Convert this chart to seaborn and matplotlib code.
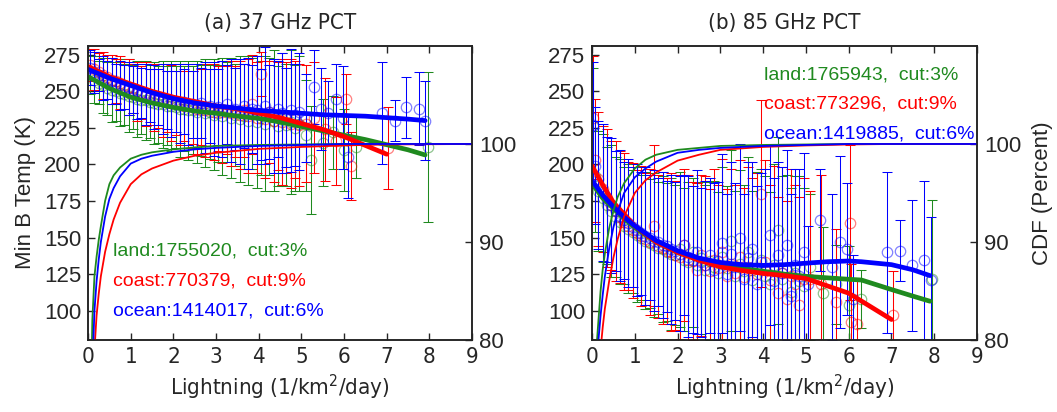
import matplotlib
matplotlib.use("Agg")
import matplotlib.pyplot as plt
import seaborn as sns

sns.set_style("ticks")
plt.rcParams['font.family'] = ['Liberation Sans', 'DejaVu Sans']
NARROW = ['Liberation Sans Narrow', 'DejaVu Sans']

GREEN = '#1f8a1f'
RED = '#ff0000'
BLUE = '#0000ff'

# ---------------- (a) 37 GHz ----------------
x37 = [0.05, 0.15, 0.25, 0.35, 0.45, 0.55, 0.65, 0.75, 0.85, 0.95,
       1.05, 1.15, 1.25, 1.35, 1.45, 1.55, 1.65, 1.75, 1.85, 1.95,
       2.05, 2.15, 2.25, 2.35, 2.45, 2.55, 2.65, 2.75, 2.85, 2.95,
       3.05, 3.15, 3.25, 3.35, 3.45, 3.55, 3.65, 3.75, 3.85, 3.95,
       4.05, 4.15, 4.25, 4.35, 4.45, 4.55, 4.65, 4.75, 4.85, 4.95]

land37_mean = [261, 258, 256, 254, 252, 251, 250, 249, 248, 247,
               246, 245, 244, 244, 243, 242, 241, 241, 240, 240,
               239, 238, 238, 237, 237, 236, 237, 235, 236, 234,
               235, 233, 236, 232, 234, 231, 233, 230, 235, 229,
               232, 228, 233, 230, 226, 231, 227, 229, 225, 228]
land37_err = [13, 16, 15, 19, 18, 22, 20, 23, 21, 25,
              22, 26, 23, 27, 25, 28, 26, 30, 27, 31,
              28, 33, 29, 34, 30, 35, 31, 37, 32, 38,
              33, 40, 34, 41, 35, 43, 36, 44, 38, 45,
              39, 46, 40, 48, 41, 45, 42, 49, 43, 46]
coast37_mean = [268, 265, 263, 261, 260, 258, 257, 256, 254, 253,
                252, 250, 249, 248, 246, 246, 245, 244, 243, 242,
                242, 241, 240, 240, 239, 238, 239, 237, 238, 236,
                238, 236, 237, 235, 236, 234, 237, 233, 241, 232,
                262, 231, 236, 230, 233, 229, 232, 228, 231, 227]
coast37_err = [11, 14, 13, 16, 15, 17, 15, 18, 16, 19,
               17, 20, 18, 22, 19, 23, 20, 25, 21, 26,
               22, 28, 24, 29, 25, 31, 26, 32, 27, 33,
               29, 35, 30, 36, 31, 37, 32, 39, 34, 38,
               15, 40, 35, 42, 37, 43, 38, 44, 40, 42]
ocean37_mean = [266, 263, 261, 259, 258, 257, 255, 254, 253, 252,
                251, 250, 249, 248, 247, 246, 246, 245, 244, 244,
                243, 242, 243, 241, 241, 240, 242, 239, 240, 238,
                239, 238, 241, 237, 238, 236, 240, 235, 238, 237,
                234, 240, 236, 233, 238, 235, 232, 237, 234, 236]
ocean37_err = [12, 14, 11, 15, 13, 16, 14, 17, 15, 18,
               16, 19, 17, 21, 18, 22, 19, 24, 20, 25,
               21, 27, 22, 28, 23, 29, 24, 31, 25, 32,
               26, 33, 27, 35, 28, 36, 29, 38, 30, 37,
               31, 40, 32, 39, 33, 41, 34, 42, 35, 40]

land37_tail_x = [5.1, 5.23, 5.5, 5.75, 6.0, 6.29, 7.97]
land37_tail_mean = [220, 203, 215, 222, 210, 212, 212]
land37_tail_err = [38, 37, 30, 25, 28, 21, 51]
coast37_tail_x = [5.1, 5.3, 5.55, 5.8, 6.05, 6.17, 7.03]
coast37_tail_mean = [228, 232, 224, 216, 245, 199, 211]
coast37_tail_err = [40, 38, 35, 30, 17, 23, 28]
ocean37_tail_x = [5.1, 5.3, 5.47, 5.63, 5.82, 5.98, 6.09, 6.9, 7.2, 7.45, 7.76, 7.9]
ocean37_tail_mean = [232, 253, 238, 235, 245, 232, 205, 235, 230, 239, 238, 230]
ocean37_tail_err = [30, 25, 28, 22, 24, 35, 28, 35, 14, 21, 25, 27]

fit37_x = [0, 0.5, 1, 1.5, 2, 2.5, 3, 3.5, 4, 4.5, 5, 5.5, 6, 6.5, 7, 7.5, 7.9]
land37_fit = [260, 252, 246, 242, 239, 236.5, 235, 233, 231.5, 229, 226, 223, 220, 217, 213.5, 210, 206.5]
ocean37_fit = [265, 259, 254, 249, 245, 242, 240, 238.5, 237, 236, 235, 234, 233.5, 233, 232, 231, 230]
coast37_fit_x = [0, 0.5, 1, 1.5, 2, 2.5, 3, 3.5, 4, 4.5, 5, 5.5, 6, 6.5, 7]
coast37_fit = [267, 260, 255, 250, 246, 243, 240, 238, 235, 232, 228, 224, 219, 213, 207]

cdf_x = [0.0, 0.05, 0.1, 0.15, 0.2, 0.25, 0.3, 0.4, 0.5, 0.6, 0.75, 1.0, 1.25, 1.5,
         2.0, 2.5, 3.0, 4.0, 5.0, 6.0, 7.0, 9.0]
land37_cdf = [40, 70, 82, 86.5, 88.5, 90.2, 91.6, 94.2, 95.9, 96.8, 97.6, 98.5, 98.9, 99.15,
              99.45, 99.65, 99.8, 99.9, 99.95, 100, 100, 100]
coast37_cdf = [20, 45, 66, 79, 82.5, 84.7, 86.5, 89.0, 90.8, 92.3, 94.0, 95.9, 96.9, 97.5,
               98.3, 98.8, 99.1, 99.5, 99.7, 99.85, 99.95, 100]
ocean37_cdf = [35, 62, 77, 83, 86.0, 88.2, 90.0, 92.6, 94.4, 95.5, 96.7, 98.0, 98.5, 98.8,
               99.2, 99.45, 99.6, 99.8, 99.9, 100, 100, 100]

# ---------------- (b) 85 GHz ----------------
x85 = [0.02, 0.06, 0.15, 0.25, 0.35, 0.45, 0.55, 0.65, 0.75, 0.85,
       0.95, 1.05, 1.15, 1.25, 1.35, 1.45, 1.55, 1.65, 1.75, 1.85,
       1.95, 2.05, 2.15, 2.25, 2.35, 2.45, 2.55, 2.65, 2.75, 2.85,
       2.95, 3.05, 3.15, 3.25, 3.35, 3.45, 3.55, 3.65, 3.75, 3.85,
       3.95, 4.05, 4.15, 4.25, 4.35, 4.45, 4.55, 4.65, 4.75, 4.85, 4.95]

land85_mean = [226, 192, 182, 177, 172, 168, 164, 161, 158, 156,
               154, 152, 150, 148, 146, 145, 143, 142, 140, 139,
               138, 142, 135, 133, 140, 131, 136, 128, 134, 130,
               126, 137, 129, 148, 124, 132, 127, 140, 121, 129,
               135, 124, 118, 131, 155, 122, 128, 113, 126, 120, 117]
land85_err = [40, 38, 41, 44, 40, 45, 41, 43, 40, 44,
              42, 46, 43, 47, 44, 49, 45, 50, 47, 52,
              48, 53, 49, 55, 51, 56, 52, 58, 54, 59,
              55, 61, 56, 62, 58, 64, 59, 65, 61, 66,
              62, 68, 63, 69, 64, 70, 65, 71, 66, 72, 67]
coast85_mean = [232, 203, 190, 183, 177, 172, 168, 164, 161, 158,
                155, 153, 151, 149, 147, 158, 144, 143, 141, 140,
                138, 137, 145, 135, 134, 128, 138, 131, 127, 135,
                129, 140, 124, 132, 126, 137, 123, 130, 128, 125,
                180, 133, 121, 128, 112, 126, 108, 124, 118, 104, 122]
coast85_err = [42, 42, 46, 43, 47, 44, 48, 45, 47, 44,
               46, 43, 48, 45, 50, 55, 49, 52, 50, 54,
               51, 56, 52, 58, 54, 59, 55, 61, 56, 62,
               57, 64, 59, 65, 60, 66, 61, 68, 63, 69,
               64, 70, 65, 71, 66, 72, 67, 73, 68, 74, 69]
ocean85_mean = [227, 199, 186, 181, 176, 172, 168, 165, 162, 160,
                157, 155, 153, 151, 150, 148, 147, 145, 144, 142,
                141, 139, 145, 137, 135, 140, 133, 131, 138, 128,
                134, 146, 125, 139, 130, 150, 122, 136, 142, 118,
                133, 128, 152, 120, 138, 126, 145, 110, 131, 124, 140]
ocean85_err = [43, 40, 44, 47, 43, 46, 41, 45, 40, 44,
               41, 45, 42, 47, 43, 48, 44, 50, 45, 51,
               47, 53, 48, 55, 50, 56, 51, 58, 53, 59,
               54, 61, 55, 63, 57, 64, 58, 66, 60, 67,
               61, 69, 62, 71, 64, 72, 65, 70, 66, 73, 68]

land85_tail_x = [5.1, 5.4, 5.7, 6.0, 6.3, 7.95]
land85_tail_mean = [130, 112, 118, 104, 108, 122]
land85_tail_err = [50, 45, 27, 40, 20, 54]
coast85_tail_x = [5.1, 5.35, 5.7, 6.04, 6.06, 6.2, 7.04]
coast85_tail_mean = [122, 118, 106, 160, 92, 91, 97]
coast85_tail_err = [60, 75, 50, 53, 40, 30, 30]
ocean85_tail_x = [5.05, 5.33, 5.6, 5.8, 5.95, 6.1, 6.89, 7.2, 7.47, 7.76, 7.92]
ocean85_tail_mean = [118, 162, 130, 147, 142, 108, 140, 141, 131, 135, 121]
ocean85_tail_err = [40, 35, 50, 59, 45, 30, 55, 21, 45, 54, 43]

fit85_x = [0, 0.25, 0.5, 0.75, 1, 1.5, 2, 2.5, 3, 3.5, 4, 4.5, 5, 5.5, 6, 6.3, 7, 7.5, 7.9]
land85_fit = [187, 177, 170, 163, 157, 147, 140, 135, 131, 129, 127, 125, 123.5, 122.5, 121.5, 121, 114.5, 110, 106.5]
ocean85_fit = [189, 179, 171, 164, 158, 148, 141, 136, 133, 131.5, 131, 131.5, 132.5, 133.5, 134, 133.5, 131.5, 128, 124]
coast85_fit_x = [0, 0.25, 0.5, 0.75, 1, 1.5, 2, 2.5, 3, 3.5, 4, 4.5, 5, 5.5, 6, 6.5, 7]
coast85_fit = [199, 186, 174, 166, 158, 147, 140, 134.5, 130, 127.5, 125.5, 124, 122, 117, 112, 103, 94]

land85_cdf = [30, 72, 79, 82, 85, 87.2, 88.8, 91.4, 93.2, 94.6, 96.0, 97.5, 98.4, 98.9,
              99.4, 99.6, 99.8, 99.9, 99.95, 100, 100, 100]
coast85_cdf = [15, 45, 62, 73, 79, 81.3, 83.2, 86.0, 88.4, 90.3, 92.6, 95.0, 96.3, 97.1,
               98.3, 98.9, 99.4, 99.7, 99.85, 99.95, 100, 100]
ocean85_cdf = [25, 62, 74, 80, 82.5, 84.6, 86.5, 89.3, 91.5, 93.1, 95.0, 96.6, 97.5, 98.2,
               99.1, 99.4, 99.6, 99.8, 99.9, 100, 100, 100]

labels37 = ['land:1755020,  cut:3%', 'coast:770379,  cut:9%', 'ocean:1414017,  cut:6%']
labels85 = ['land:1765943,  cut:3%', 'coast:773296,  cut:9%', 'ocean:1419885,  cut:6%']


def bars(ax, x, mean, err, color):
    ax.errorbar(x, mean, yerr=err, fmt='none', ecolor=color, elinewidth=0.75,
                capsize=3.5, capthick=0.75, zorder=2)
    ax.plot(x, mean, 'o', mfc='none', mec=color, ms=7.5, mew=0.9, alpha=0.5, zorder=2)


def panel(ax, dense_x, data, tails, fits, cdfs, title, labels, text_xy, right_label):
    colors = [GREEN, RED, BLUE]
    for (m, e), (tx, tm, te), c in zip(data, tails, colors):
        bars(ax, dense_x, m, e, c)
        bars(ax, tx, tm, te, c)
    for (fx, fy), c in zip(fits, colors):
        sns.lineplot(x=fx, y=fy, ax=ax, color=c, lw=3.4, zorder=4)
    ax.set_xlim(0, 9)
    ax.set_ylim(80, 281)
    ax.set_yticks([100, 125, 150, 175, 200, 225, 250, 275])
    ax.set_xticks(range(10))
    ax.set_xticklabels([str(i) for i in range(10)], fontfamily=NARROW,
                       fontstretch='condensed', fontsize=16)
    ax.tick_params(axis='y', labelsize=16)
    ax.tick_params(direction='in', top=True, right=True, length=5, width=1, pad=5)
    ax.set_xlabel('Lightning (1/km$\\mathregular{^2}$/day)', fontfamily=NARROW,
                  fontstretch='condensed', fontsize=16, labelpad=4)
    ax.set_title(title, fontfamily=NARROW, fontstretch='condensed', fontsize=16, pad=12)
    for s in ax.spines.values():
        s.set_linewidth(1.1)
        s.set_color('#222222')

    tw = ax.twinx()
    for cy, c in zip(cdfs, colors):
        sns.lineplot(x=cdf_x, y=cy, ax=tw, color=c, lw=1.3)
    tw.set_ylim(80, 110)
    tw.set_yticks([80, 90, 100])
    tw.tick_params(direction='in', length=5, width=1, labelsize=16, pad=5)
    for s in tw.spines.values():
        s.set_linewidth(1.1)
        s.set_color('#222222')
    if right_label:
        tw.set_ylabel('CDF (Percent)', fontsize=16, labelpad=8)

    tx, ty, dy = text_xy
    for i, (lab, c) in enumerate(zip(labels, colors)):
        ax.text(tx, ty - i * dy, lab, color=c, fontsize=14, va='center', ha='left', zorder=6)


fig = plt.figure(figsize=(10.57, 4.12), dpi=100)
ax1 = fig.add_axes([0.0833, 0.1748, 0.3633, 0.7136])
ax2 = fig.add_axes([0.5601, 0.1748, 0.3642, 0.7136])

panel(ax1, x37,
      [(land37_mean, land37_err), (coast37_mean, coast37_err), (ocean37_mean, ocean37_err)],
      [(land37_tail_x, land37_tail_mean, land37_tail_err),
       (coast37_tail_x, coast37_tail_mean, coast37_tail_err),
       (ocean37_tail_x, ocean37_tail_mean, ocean37_tail_err)],
      [(fit37_x, land37_fit), (coast37_fit_x, coast37_fit), (fit37_x, ocean37_fit)],
      [land37_cdf, coast37_cdf, ocean37_cdf],
      '(a) 37 GHz PCT', labels37, (0.59, 140.5, 20.2), False)
ax1.set_ylabel('Min B Temp (K)', fontsize=16, labelpad=6)

panel(ax2, x85,
      [(land85_mean, land85_err), (coast85_mean, coast85_err), (ocean85_mean, ocean85_err)],
      [(land85_tail_x, land85_tail_mean, land85_tail_err),
       (coast85_tail_x, coast85_tail_mean, coast85_tail_err),
       (ocean85_tail_x, ocean85_tail_mean, ocean85_tail_err)],
      [(fit85_x, land85_fit), (coast85_fit_x, coast85_fit), (fit85_x, ocean85_fit)],
      [land85_cdf, coast85_cdf, ocean85_cdf],
      '(b) 85 GHz PCT', labels85, (4.01, 261.3, 20.2), True)

fig.savefig('out.png', dpi=100)
